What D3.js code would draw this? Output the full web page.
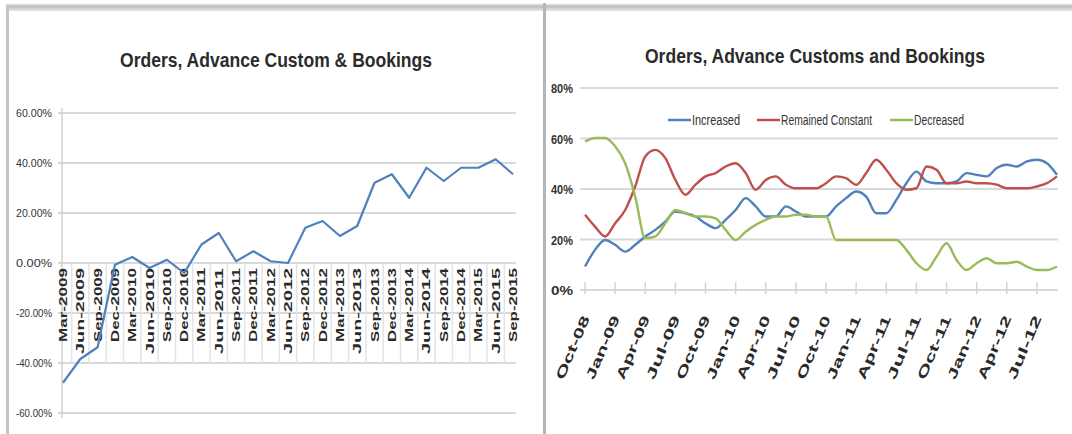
<!DOCTYPE html>
<html lang="en">
<head>
    <meta charset="UTF-8">
    <title>Orders, Advance Customs and Bookings</title>
    <style>
        body, html {
            margin: 0;
            padding: 0;
            width: 100%;
            height: 100%;
            overflow: hidden;
            background: #fff;
        }
        svg { display: block; }
        .title {
            font-family: "Liberation Sans Narrow", "Arial Narrow", "Liberation Sans", sans-serif;
            font-weight: bold;
            font-size: 21px;
            fill: #2b2b2b;
        }
        .ylab { font-family: "Liberation Sans", Arial, sans-serif; fill: #333; }
        .xlab { font-family: "Liberation Sans", Arial, sans-serif; fill: #2a2a2a; }
        .grid { stroke: #d9d9d9; stroke-width: 2; }
    </style>
</head>
<body>
<svg width="1072" height="434"></svg>
<script src="https://d3js.org/d3.v7.min.js"></script>
<script>
    // left chart: quarterly % change
    const leftLabels = [
        "Mar-2009", "Jun-2009", "Sep-2009", "Dec-2009", "Mar-2010", "Jun-2010", "Sep-2010",
        "Dec-2010", "Mar-2011", "Jun-2011", "Sep-2011", "Dec-2011", "Mar-2012", "Jun-2012",
        "Sep-2012", "Dec-2012", "Mar-2013", "Jun-2013", "Sep-2013", "Dec-2013", "Mar-2014",
        "Jun-2014", "Sep-2014", "Dec-2014", "Mar-2015", "Jun-2015", "Sep-2015"
    ];
    const leftValues = [
        -47.9, -38.4, -33.7, -0.7, 2.4, -2.0, 1.3, -4.0, 7.4, 12.0, 0.7, 4.7, 0.7, 0.0,
        14.1, 16.8, 10.8, 14.8, 32.1, 35.5, 26.1, 38.1, 32.8, 38.1, 38.1, 41.5, 35.5
    ];
    const leftTicks = [60, 40, 20, 0, -20, -40, -60];

    // right chart: monthly shares
    const months = [
        "Oct-08", "Nov-08", "Dec-08", "Jan-09", "Feb-09", "Mar-09", "Apr-09", "May-09", "Jun-09", "Jul-09", "Aug-09", "Sep-09",
        "Oct-09", "Nov-09", "Dec-09", "Jan-10", "Feb-10", "Mar-10", "Apr-10", "May-10", "Jun-10", "Jul-10", "Aug-10", "Sep-10",
        "Oct-10", "Nov-10", "Dec-10", "Jan-11", "Feb-11", "Mar-11", "Apr-11", "May-11", "Jun-11", "Jul-11", "Aug-11", "Sep-11",
        "Oct-11", "Nov-11", "Dec-11", "Jan-12", "Feb-12", "Mar-12", "Apr-12", "May-12", "Jun-12", "Jul-12", "Aug-12", "Sep-12"
    ];
    const increased = [
        9.3, 15.9, 19.8, 17.9, 15.2, 17.9, 21.2, 23.8, 27.1, 31.1, 30.4, 29.1, 26.4, 24.5, 27.8, 31.7,
        36.4, 33.1, 29.1, 29.1, 33.1, 31.1, 29.1, 29.1, 29.1, 33.1, 36.4, 39.0, 37.0, 30.4, 30.4, 35.7,
        42.3, 46.9, 43.0, 42.3, 42.3, 43.0, 46.3, 45.6, 45.0, 48.3, 49.6, 48.9, 50.9, 51.6, 50.2, 45.6
    ];
    const remained = [
        29.8, 25.1, 21.2, 26.4, 31.7, 41.0, 52.9, 55.5, 52.2, 43.6, 37.7, 41.7, 45.0, 46.3, 48.9, 50.2,
        46.3, 39.7, 43.6, 45.0, 41.7, 40.3, 40.3, 40.3, 42.3, 45.0, 44.3, 41.7, 46.3, 51.6, 47.6, 42.3,
        39.7, 40.3, 48.9, 47.6, 42.3, 42.3, 43.0, 42.3, 42.3, 41.7, 40.3, 40.3, 40.3, 41.0, 42.3, 45.0
    ];
    const decreased = [
        58.8, 60.2, 60.2, 56.9, 50.2, 37.0, 20.5, 21.2, 26.4, 31.7, 30.4, 29.1, 29.1, 28.4, 23.8, 19.8,
        23.1, 25.8, 27.8, 29.1, 29.1, 29.8, 29.8, 29.1, 29.1, 19.8, 19.8, 19.8, 19.8, 19.8, 19.8, 19.8,
        15.9, 10.6, 7.9, 13.2, 18.5, 11.9, 7.9, 10.6, 12.6, 10.6, 10.6, 11.2, 9.3, 7.9, 7.9, 9.3
    ];
    const rightTickLabels = ["Oct-08", "Jan-09", "Apr-09", "Jul-09", "Oct-09", "Jan-10", "Apr-10", "Jul-10",
        "Oct-10", "Jan-11", "Apr-11", "Jul-11", "Oct-11", "Jan-12", "Apr-12", "Jul-12"];
    const rightTicks = [80, 60, 40, 20, 0];
    const seriesNames = ["Increased", "Remained Constant", "Decreased"];
    const seriesColors = ["#4f81bd", "#c0504d", "#9bbb59"];

    const svg = d3.select("svg");

    // frame: top shadow band, left border, divider
    const grad = svg.append("defs").append("linearGradient")
        .attr("id", "band").attr("x1", 0).attr("y1", 0).attr("x2", 0).attr("y2", 1);
    grad.append("stop").attr("offset", "0%").attr("stop-color", "#fff");
    grad.append("stop").attr("offset", "40%").attr("stop-color", "#bdbdbd");
    grad.append("stop").attr("offset", "100%").attr("stop-color", "#e8e8e8");
    svg.append("rect").attr("x", 6).attr("y", 3).attr("width", 1066).attr("height", 8).attr("fill", "url(#band)");
    svg.append("rect").attr("x", 6).attr("y", 8).attr("width", 3).attr("height", 426).attr("fill", "#c4c4c4");
    svg.append("rect").attr("x", 543).attr("y", 3).attr("width", 3).attr("height", 431).attr("fill", "#b5b5b5");

    /* ------- left chart ------- */
    const xL = d3.scalePoint().domain(leftLabels).range([63, 513]);
    const yL = d3.scaleLinear().domain([-60, 60]).range([413, 113]);

    svg.append("text").attr("class", "title")
        .attr("x", 120).attr("y", 67)
        .attr("textLength", 312).attr("lengthAdjust", "spacingAndGlyphs")
        .text("Orders, Advance Custom & Bookings");

    svg.selectAll(".gridL").data(leftTicks).enter().append("line")
        .attr("class", "grid")
        .attr("x1", 58).attr("x2", 516)
        .attr("y1", d => yL(d)).attr("y2", d => yL(d));

    svg.append("line").attr("x1", 62).attr("x2", 62).attr("y1", 108).attr("y2", 418)
        .attr("stroke", "#d0d0d0").attr("stroke-width", 1.5);

    svg.selectAll(".ylabL").data(leftTicks).enter().append("text")
        .attr("class", "ylab")
        .attr("x", 52).attr("y", d => yL(d) + 4)
        .attr("text-anchor", "end")
        .attr("font-size", 10)
        .attr("textLength", 36).attr("lengthAdjust", "spacingAndGlyphs")
        .text(d => d.toFixed(2) + "%");

    // category separators under the zero line
    const step = xL.step();
    svg.selectAll(".sep").data(leftLabels.slice(1)).enter().append("line")
        .attr("x1", d => xL(d) - step / 2).attr("x2", d => xL(d) - step / 2)
        .attr("y1", yL(0)).attr("y2", yL(-40))
        .attr("stroke", "#e4e4e4").attr("stroke-width", 1.5);

    svg.selectAll(".xlabL").data(leftLabels).enter().append("text")
        .attr("class", "xlab")
        .attr("font-size", 11)
        .attr("font-weight", "bold")
        .attr("text-anchor", "end")
        .attr("transform", d => `translate(${xL(d) + 4},268) rotate(-90)`)
        .attr("textLength", (d, i) => i % 4 === 1 ? 86 : 74)
        .attr("lengthAdjust", "spacingAndGlyphs")
        .text(d => d);

    const lineL = d3.line().x((d, i) => xL(leftLabels[i])).y(d => yL(d));
    svg.append("path").datum(leftValues)
        .attr("d", lineL)
        .attr("fill", "none")
        .attr("stroke", "#4f81bd")
        .attr("stroke-width", 2.2)
        .attr("stroke-linejoin", "round");

    /* ------- right chart ------- */
    const xR = d3.scalePoint().domain(months).range([585, 1057]);
    const yR = d3.scaleLinear().domain([0, 80]).range([290, 88]);

    svg.append("text").attr("class", "title")
        .attr("x", 645).attr("y", 63)
        .attr("textLength", 340).attr("lengthAdjust", "spacingAndGlyphs")
        .text("Orders, Advance Customs and Bookings");

    svg.selectAll(".gridR").data(rightTicks).enter().append("line")
        .attr("class", "grid")
        .attr("x1", 580).attr("x2", 1058)
        .attr("y1", d => yR(d)).attr("y2", d => yR(d));

    svg.selectAll(".ylabR").data(rightTicks).enter().append("text")
        .attr("class", "ylab")
        .attr("x", 573).attr("y", d => yR(d) + 5)
        .attr("text-anchor", "end")
        .attr("font-size", 12)
        .attr("font-weight", "bold")
        .attr("textLength", 22).attr("lengthAdjust", "spacingAndGlyphs")
        .text(d => d + "%");

    svg.selectAll(".tickR").data(rightTickLabels).enter().append("line")
        .attr("x1", d => xR(d)).attr("x2", d => xR(d))
        .attr("y1", yR(0) - 8).attr("y2", yR(0) + 4)
        .attr("stroke", "#d4d4d4").attr("stroke-width", 1.5);

    svg.selectAll(".xlabR").data(rightTickLabels).enter().append("text")
        .attr("class", "xlab")
        .attr("font-size", 13)
        .attr("font-weight", "bold")
        .attr("text-anchor", "end")
        .attr("transform", d => `translate(${xR(d) + 5},318) rotate(-67)`)
        .attr("textLength", 68).attr("lengthAdjust", "spacingAndGlyphs")
        .text(d => d);

    const series = [increased, remained, decreased];
    const lineR = d3.line().x((d, i) => xR(months[i])).y(d => yR(d)).curve(d3.curveMonotoneX);
    svg.selectAll(".seriesR").data(series).enter().append("path")
        .attr("d", lineR)
        .attr("fill", "none")
        .attr("stroke", (d, i) => seriesColors[i])
        .attr("stroke-width", 2.4)
        .attr("stroke-linejoin", "round");

    // legend
    const legendX = [668, 757, 890];
    const legendW = [48, 91, 50];
    const legend = svg.selectAll(".legend").data(seriesNames).enter().append("g")
        .attr("transform", (d, i) => `translate(${legendX[i]},120)`);
    legend.append("line")
        .attr("x1", 0).attr("x2", 23).attr("y1", 0).attr("y2", 0)
        .attr("stroke", (d, i) => seriesColors[i]).attr("stroke-width", 2.5);
    legend.append("text")
        .attr("x", 24).attr("y", 5)
        .attr("font-family", "Liberation Sans Narrow, Liberation Sans, sans-serif")
        .attr("font-size", 14)
        .attr("fill", "#333")
        .attr("textLength", (d, i) => legendW[i]).attr("lengthAdjust", "spacingAndGlyphs")
        .text(d => d);
</script>
</body>
</html>
